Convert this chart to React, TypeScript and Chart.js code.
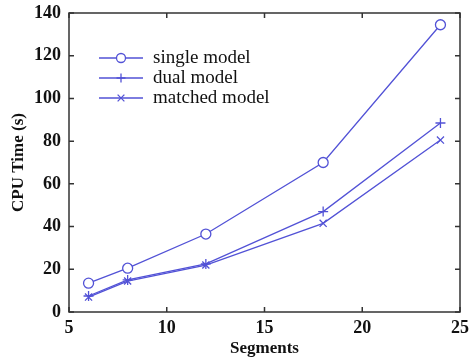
import React, { useEffect, useRef } from "react";
import { Chart, registerables } from "chart.js";

Chart.register(...registerables);

const segments = [6, 8, 12, 18, 24];
const singleModel = [13.5, 20.5, 36.5, 70, 134.5];
const dualModel = [7.5, 15, 22.5, 47, 88.5];
const matchedModel = [7, 14.5, 22, 41.5, 80.5];
const seriesLabels = ["single model", "dual model", "matched model"];
const xTicks = [5, 10, 15, 20, 25];
const yTicks = [0, 20, 40, 60, 80, 100, 120, 140];

const LINE = "#5252d6";
const SERIF = "'Liberation Serif', 'DejaVu Serif', serif";

function drawMarker(ctx: any, style: string, x: number, y: number, r: number) {
  ctx.strokeStyle = LINE;
  ctx.lineWidth = 1.3;
  ctx.beginPath();
  if (style === "circle") {
    ctx.arc(x, y, r, 0, Math.PI * 2);
    ctx.fillStyle = "#fff";
    ctx.fill();
  } else if (style === "cross") {
    ctx.moveTo(x - r, y);
    ctx.lineTo(x + r, y);
    ctx.moveTo(x, y - r);
    ctx.lineTo(x, y + r);
  } else {
    const d = r * 0.75;
    ctx.moveTo(x - d, y - d);
    ctx.lineTo(x + d, y + d);
    ctx.moveTo(x - d, y + d);
    ctx.lineTo(x + d, y - d);
  }
  ctx.stroke();
}

const frame = {
  id: "frame",
  afterDatasetsDraw(chart: any) {
    const { ctx, chartArea: a, scales } = chart;
    ctx.save();
    ctx.strokeStyle = "#333";
    ctx.lineWidth = 1.5;
    ctx.strokeRect(a.left, a.top, a.right - a.left, a.bottom - a.top);
    const L = 5;
    ctx.beginPath();
    xTicks.forEach((v) => {
      const x = scales.x.getPixelForValue(v);
      ctx.moveTo(x, a.bottom);
      ctx.lineTo(x, a.bottom - L);
      ctx.moveTo(x, a.top);
      ctx.lineTo(x, a.top + L);
    });
    yTicks.forEach((v) => {
      const y = scales.y.getPixelForValue(v);
      ctx.moveTo(a.left, y);
      ctx.lineTo(a.left + L, y);
      ctx.moveTo(a.right, y);
      ctx.lineTo(a.right - L, y);
    });
    ctx.stroke();

    const styles = ["circle", "cross", "crossRot"];
    const x0 = a.left + 30;
    const x1 = a.left + 74;
    const xm = (x0 + x1) / 2;
    ctx.font = `19px ${SERIF}`;
    ctx.textBaseline = "middle";
    ctx.textAlign = "left";
    seriesLabels.forEach((lab, i) => {
      const y = a.top + 45 + i * 20;
      ctx.strokeStyle = LINE;
      ctx.lineWidth = 1.3;
      ctx.beginPath();
      ctx.moveTo(x0, y);
      ctx.lineTo(x1, y);
      ctx.stroke();
      drawMarker(ctx, styles[i], xm, y, 4.5);
      ctx.fillStyle = "#111";
      ctx.fillText(lab, a.left + 84, y);
    });
    ctx.restore();
  },
};

export default function App() {
  const ref = useRef<HTMLCanvasElement>(null);
  useEffect(() => {
    const mk = (data: number[], label: string, style: string) => ({
      label,
      data: segments.map((s, i) => ({ x: s, y: data[i] })),
      borderColor: LINE,
      backgroundColor: "#fff",
      borderWidth: 1.3,
      pointStyle: style,
      pointRadius: 5,
      pointBorderWidth: 1.3,
      pointBorderColor: LINE,
      pointBackgroundColor: "#fff",
      tension: 0,
      fill: false,
    });
    const chart = new Chart(ref.current!, {
      type: "line",
      data: {
        datasets: [
          mk(singleModel, seriesLabels[0], "circle"),
          mk(dualModel, seriesLabels[1], "cross"),
          mk(matchedModel, seriesLabels[2], "crossRot"),
        ],
      },
      options: {
        animation: false,
        responsive: false,
        layout: { padding: { top: 13, right: 10, left: 0, bottom: 0 } },
        plugins: { legend: { display: false }, tooltip: { enabled: false } },
        scales: {
          x: {
            type: "linear",
            min: 5,
            max: 25,
            afterBuildTicks: (s: any) => {
              s.ticks = xTicks.map((v) => ({ value: v }));
            },
            afterFit: (s: any) => {
              s.height = 47;
              s.paddingLeft = 0;
              s.paddingRight = 0;
            },
            grid: { display: false, drawTicks: false },
            border: { display: false },
            ticks: { color: "#111", font: { family: SERIF, size: 18, weight: "bold" }, padding: 6, maxRotation: 0 },
            title: {
              display: true,
              text: "Segments",
              color: "#111",
              font: { family: SERIF, size: 17, weight: "bold" },
              padding: { top: 0, bottom: 0 },
            },
          },
          y: {
            min: 0,
            max: 140,
            afterBuildTicks: (s: any) => {
              s.ticks = yTicks.map((v) => ({ value: v }));
            },
            afterFit: (s: any) => {
              s.width = 69;
              s.paddingTop = 0;
              s.paddingBottom = 0;
            },
            grid: { display: false, drawTicks: false },
            border: { display: false },
            ticks: { color: "#111", font: { family: SERIF, size: 18, weight: "bold" }, padding: 8 },
            title: {
              display: true,
              text: "CPU Time (s)",
              color: "#111",
              font: { family: SERIF, size: 17, weight: "bold" },
              padding: { top: 8, bottom: 0 },
            },
          },
        },
      },
      plugins: [frame],
    } as any);
    return () => chart.destroy();
  }, []);
  return (
    <div style={{ position: "fixed", left: 0, top: 0, width: 470, height: 359, background: "#fff" }}>
      <canvas ref={ref} width={470} height={359} style={{ display: "block", width: 470, height: 359 }} />
    </div>
  );
}
